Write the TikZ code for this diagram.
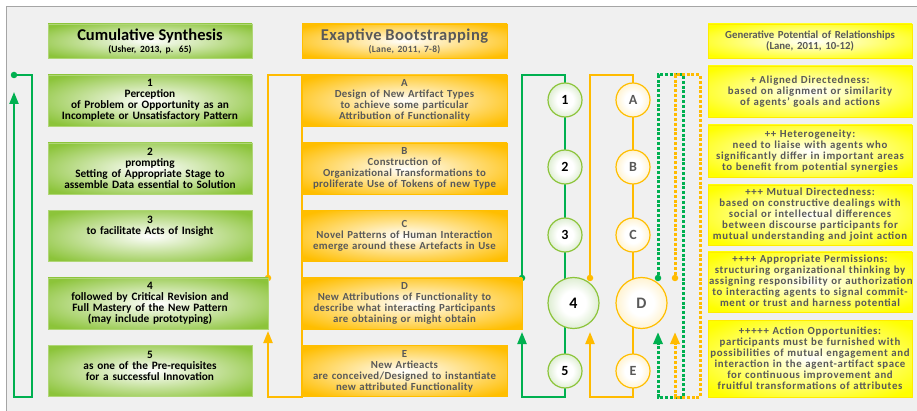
\documentclass[tikz,border=0pt]{standalone}
\usepackage{fontspec}
\setmainfont{Carlito}
\newfontfamily\ofont[LetterSpace=3]{Carlito}
\newfontfamily\yfont[LetterSpace=6]{Carlito}
\usetikzlibrary{arrows.meta}

\definecolor{bggray}{RGB}{240,240,240}
\definecolor{rimgray}{RGB}{165,165,165}
\definecolor{gboxc}{RGB}{140,196,58}
\definecolor{gwire}{RGB}{0,176,80}
\definecolor{oboxc}{RGB}{255,190,0}
\definecolor{owire}{RGB}{255,187,0}
\definecolor{yboxc}{RGB}{255,255,0}
\definecolor{gballc}{RGB}{160,205,125}
\definecolor{oballc}{RGB}{255,220,120}
\definecolor{darktxt}{RGB}{89,89,89}

\pgfdeclareradialshading{gglow}{\pgfpointorigin}{color(0bp)=(white); color(8bp)=(gboxc!25); color(32bp)=(gboxc); color(50bp)=(gboxc)}
\pgfdeclareradialshading{oglow}{\pgfpointorigin}{color(0bp)=(white); color(8bp)=(oboxc!25); color(32bp)=(oboxc); color(50bp)=(oboxc)}
\pgfdeclareradialshading{yglow}{\pgfpointorigin}{color(0bp)=(white); color(8bp)=(yboxc!25); color(32bp)=(yboxc); color(50bp)=(yboxc)}
\pgfdeclareradialshading{gballglow}{\pgfpointorigin}{color(0bp)=(white); color(12bp)=(white); color(50bp)=(gballc)}
\pgfdeclareradialshading{oballglow}{\pgfpointorigin}{color(0bp)=(white); color(12bp)=(white); color(50bp)=(oballc)}

\begin{document}
\begin{tikzpicture}[x=1pt,y=-1pt]
\tikzstyle{gtext}=[text width=202pt, align=center, inner sep=0pt, font=\bfseries\fontsize{11.3}{11}\selectfont, text=black];
\tikzstyle{otext}=[gtext, font=\ofont\bfseries\fontsize{10.8}{11}\selectfont, text=darktxt];
\tikzstyle{ytext}=[gtext, font=\yfont\bfseries\fontsize{10.8}{11}\selectfont, text=darktxt];
\tikzstyle{gbox}=[gtext, shade, shading=gglow, draw=gboxc!70, line width=0.5pt, minimum width=204pt, minimum height=51pt];
\tikzstyle{obox}=[otext, shade, shading=oglow, draw=oboxc, line width=0.5pt, minimum width=205pt, minimum height=51pt];
\tikzstyle{ybox}=[ytext, shade, shading=yglow, draw=yboxc!85!orange, line width=0.5pt, minimum width=204pt, minimum height=51pt];
\tikzstyle{gcirc}=[circle, shade, shading=gballglow, draw=gboxc, line width=1.2pt, minimum size=34pt, inner sep=0pt, font=\bfseries\fontsize{14}{16}\selectfont, text=black];
\tikzstyle{ocirc}=[gcirc, shading=oballglow, draw=oboxc, text=darktxt];
\tikzstyle{gknot}=[circle, fill=gwire, inner sep=0pt, minimum size=6.5pt];
\tikzstyle{oknot}=[gknot, fill=owire];
\tikzstyle{gl}=[draw=gwire, line width=2.2pt];
\tikzstyle{ol}=[draw=owire, line width=2.2pt];
\tikzstyle{gdl}=[gl, line width=3pt, dash pattern=on 3pt off 1.8pt];
\tikzstyle{odl}=[ol, line width=3pt, dash pattern=on 3pt off 1.8pt];
\tikzstyle{arr}=[-{Triangle[width=9pt,length=12pt]}];

% page
\useasboundingbox (0,0) rectangle (917,411);
\fill[white] (0,0) rectangle (917,411);
\fill[bggray] (6,7) rectangle (917,411);
\draw[rimgray, line width=1pt] (6,411) -- (6,7) -- (917,7);

% loop knots and corners
\node [gknot] (d1) at (14,75) {};
\node [oknot] (d2) at (268,278) {};
\node [gknot] (d3) at (522,278) {};
\node [oknot] (d4) at (590,278) {};
\node [gknot] (d5) at (658,278) {};
\node [oknot] (d6) at (675,278) {};
\coordinate (r1) at (32,397);
\coordinate (s1) at (14,397);
\coordinate (e1) at (14,92);
\coordinate (t2) at (302,75);
\coordinate (b2) at (268,397);
\coordinate (e2) at (268,331);
\coordinate (t3) at (565,75);
\coordinate (b3) at (522,397);
\coordinate (e3) at (522,332);
\coordinate (t4) at (633,75);
\coordinate (b4) at (590,397);
\coordinate (e4) at (590,332);
\coordinate (t5) at (683,75);
\coordinate (b5) at (658,397);
\coordinate (e5) at (658,332);
\coordinate (t6) at (700,75);
\coordinate (b6) at (675,397);
\coordinate (e6) at (675,332);

\draw [gl,arr] (d1) -| (r1) -- (s1) -- (e1);
\draw [ol,arr] (d2) |- (t2) |- (b2) -- (e2);
\draw [gl,arr] (d3) |- (t3) |- (b3) -- (e3);
\draw [ol,arr] (d4) |- (t4) |- (b4) -- (e4);
\draw [gdl,arr] (d5) |- (t5) |- (b5) -- (e5);
\draw [odl,arr] (d6) |- (t6) |- (b6) -- (e6);

% cumulative synthesis
\node [gbox, minimum height=34pt] (g0) at (150,41) {{\fontsize{16.5}{18}\selectfont Cumulative Synthesis}\\[1pt]{\fontsize{9.5}{11}\selectfont (Usher, 2013, p. 65)}};
\node [gbox] (g1) at (150,100.5) {1\\Perception\\of Problem or Opportunity as an\\Incomplete or Unsatisfactory Pattern};
\node [gbox] (g2) at (150,168.5) {2\\prompting\\Setting of Appropriate Stage to\\assemble Data essential to Solution};
\node [gbox] (g3) at (150,236) {3\\to facilitate Acts of Insight\\\mbox{}\\\mbox{}};
\node [gbox, minimum width=220pt] (g4) at (158,303.5) {};
\node [gtext] (g4t) at (150,303.5) {4\\followed by Critical Revision and\\Full Mastery of the New Pattern\\(may include prototyping)};
\node [gbox] (g5) at (150,371) {5\\as one of the Pre-requisites\\for a successful Innovation\\\mbox{}};

% exaptive bootstrapping
\node [obox, minimum height=34pt] (o0) at (404.5,41) {{\fontsize{16.5}{18}\selectfont Exaptive Bootstrapping}\\[1pt]{\fontsize{9.5}{11}\selectfont (Lane, 2011, 7-8)}};
\node [obox] (o1) at (404.5,100.5) {A\\Design of New Artifact Types\\to achieve some particular\\Attribution of Functionality};
\node [obox] (o2) at (404.5,168.5) {B\\Construction of\\Organizational Transformations to\\proliferate Use of Tokens of new Type};
\node [obox] (o3) at (404.5,236) {C\\Novel Patterns of Human Interaction\\emerge around these Artefacts in Use};
\node [obox, minimum width=220pt] (o4) at (412,303.5) {};
\node [otext] (o4t) at (404.5,303.5) {D\\New Attributions of Functionality to\\describe what interacting Participants\\are obtaining or might obtain};
\node [obox] (o5) at (404.5,371) {E\\New Artieacts\\are conceived/Designed to instantiate\\new attributed Functionality};

% stages
\node [gcirc] (c1) at (565,100) {1};
\node [gcirc] (c2) at (565,167) {2};
\node [gcirc] (c3) at (565,235) {3};
\node [gcirc, minimum size=51pt, font=\bfseries\fontsize{16}{18}\selectfont] (c4) at (573.5,303) {4};
\node [gcirc] (c5) at (565,371) {5};
\node [ocirc] (cA) at (633,100) {A};
\node [ocirc] (cB) at (633,167) {B};
\node [ocirc] (cC) at (633,235) {C};
\node [ocirc, minimum size=51pt, font=\bfseries\fontsize{16}{18}\selectfont] (cD) at (641.5,303) {D};
\node [ocirc] (cE) at (633,371) {E};

% generative potential
\node [ybox, minimum height=34pt, font=\bfseries\fontsize{10.8}{11}\selectfont] (y0) at (810,41) {Generative Potential of Relationships\\(Lane, 2011, 10-12)};
\node [ybox] (y1) at (810,91.5) {+ Aligned Directedness:\\based on alignment or similarity\\of agents’ goals and actions};
\node [ybox, minimum height=52pt] (y2) at (810,151) {++ Heterogeneity:\\need to liaise with agents who\\significantly differ in important areas\\to benefit from potential synergies};
\node [ybox, minimum height=60pt] (y3) at (810,215) {+++ Mutual Directedness:\\based on constructive dealings with\\social or intellectual differences\\between discourse participants for\\mutual understanding and joint action};
\node [ybox, minimum height=60pt] (y4) at (810,282) {++++ Appropriate Permissions:\\structuring organizational thinking by\\assigning responsibility or authorization\\to interacting agents to signal commit-\\ment or trust and harness potential};
\node [ybox, minimum height=77pt] (y5) at (810,358.5) {+++++ Action Opportunities:\\participants must be furnished with\\possibilities of mutual engagement and\\interaction in the agent-artifact space\\for continuous improvement and\\fruitful transformations of attributes};
\end{tikzpicture}
\end{document}
